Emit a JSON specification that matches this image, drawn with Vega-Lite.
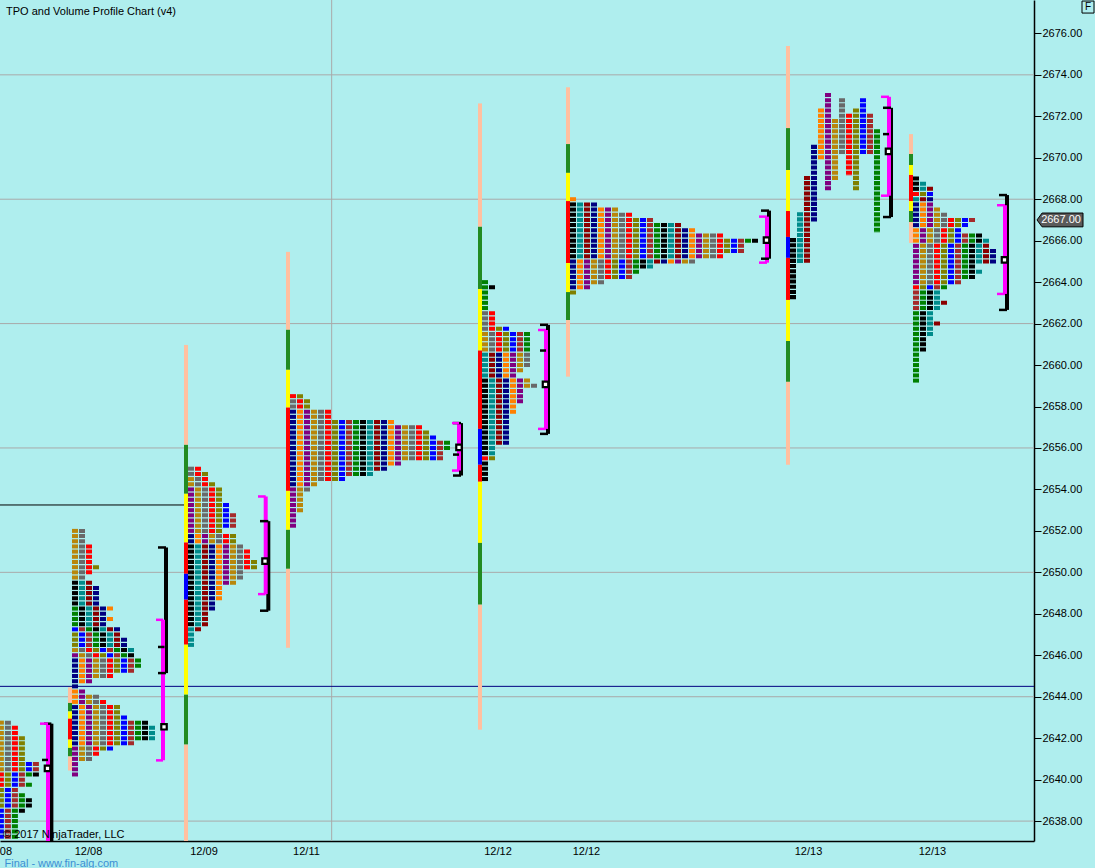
{
"$schema":"https://vega.github.io/schema/vega-lite/v6.json",
"width":1034,"height":841,
"autosize":{"type":"none"},
"padding":{"left":0,"top":0,"right":61,"bottom":27},
"background":"#afeeee",
"config":{"view":{"stroke":null},"font":"Liberation Sans"},
"datasets":{
"grid":[{"y":2674,"x":0,"xe":147.714},{"y":2668,"x":0,"xe":147.714},{"y":2662,"x":0,"xe":147.714},{"y":2656,"x":0,"xe":147.714},{"y":2650,"x":0,"xe":147.714},{"y":2644,"x":0,"xe":147.714},{"y":2638,"x":0,"xe":147.714}],
"vgrid":[{"x":47.38,"y":2677.61,"ye":2637.04}],
"lines":[{"ln":"a","y":2653.25,"x":0,"xe":26.43},{"ln":"b","y":2644.5,"x":0,"xe":147.714}],
"bars":[
{"x":9.714,"xe":10.286,"y":2644.45,"ye":2643.7,"seg":"pk"},
{"x":9.714,"xe":10.286,"y":2643.7,"ye":2643.29,"seg":"gr"},
{"x":9.714,"xe":10.286,"y":2643.29,"ye":2642.94,"seg":"ye"},
{"x":9.714,"xe":10.286,"y":2642.94,"ye":2641.93,"seg":"rd"},
{"x":9.714,"xe":10.286,"y":2641.93,"ye":2641.53,"seg":"ye"},
{"x":9.714,"xe":10.286,"y":2641.53,"ye":2641.12,"seg":"gr"},
{"x":9.714,"xe":10.286,"y":2641.12,"ye":2640.44,"seg":"pk"},
{"x":26.286,"xe":26.857,"y":2660.97,"ye":2656.15,"seg":"pk"},
{"x":26.286,"xe":26.857,"y":2656.15,"ye":2653.79,"seg":"gr"},
{"x":26.286,"xe":26.857,"y":2653.79,"ye":2651.44,"seg":"ye"},
{"x":26.286,"xe":26.857,"y":2651.44,"ye":2649.93,"seg":"rd"},
{"x":26.286,"xe":26.857,"y":2649.93,"ye":2648.68,"seg":"bl"},
{"x":26.286,"xe":26.857,"y":2648.68,"ye":2646.51,"seg":"rd"},
{"x":26.286,"xe":26.857,"y":2646.51,"ye":2644.1,"seg":"ye"},
{"x":26.286,"xe":26.857,"y":2644.1,"ye":2641.69,"seg":"gr"},
{"x":26.286,"xe":26.857,"y":2641.69,"ye":2637.04,"seg":"pk"},
{"x":40.857,"xe":41.429,"y":2665.46,"ye":2661.7,"seg":"pk"},
{"x":40.857,"xe":41.429,"y":2661.7,"ye":2659.77,"seg":"gr"},
{"x":40.857,"xe":41.429,"y":2659.77,"ye":2657.95,"seg":"ye"},
{"x":40.857,"xe":41.429,"y":2657.95,"ye":2653.93,"seg":"rd"},
{"x":40.857,"xe":41.429,"y":2653.93,"ye":2652.05,"seg":"ye"},
{"x":40.857,"xe":41.429,"y":2652.05,"ye":2650.17,"seg":"gr"},
{"x":40.857,"xe":41.429,"y":2650.17,"ye":2646.36,"seg":"pk"},
{"x":68.286,"xe":68.857,"y":2672.62,"ye":2666.67,"seg":"pk"},
{"x":68.286,"xe":68.857,"y":2666.67,"ye":2663.67,"seg":"gr"},
{"x":68.286,"xe":68.857,"y":2663.67,"ye":2660.7,"seg":"ye"},
{"x":68.286,"xe":68.857,"y":2660.7,"ye":2656.92,"seg":"rd"},
{"x":68.286,"xe":68.857,"y":2656.92,"ye":2655.19,"seg":"bl"},
{"x":68.286,"xe":68.857,"y":2655.19,"ye":2654.37,"seg":"rd"},
{"x":68.286,"xe":68.857,"y":2654.37,"ye":2651.42,"seg":"ye"},
{"x":68.286,"xe":68.857,"y":2651.42,"ye":2648.44,"seg":"gr"},
{"x":68.286,"xe":68.857,"y":2648.44,"ye":2642.41,"seg":"pk"},
{"x":80.857,"xe":81.429,"y":2673.4,"ye":2670.66,"seg":"pk"},
{"x":80.857,"xe":81.429,"y":2670.66,"ye":2669.27,"seg":"gr"},
{"x":80.857,"xe":81.429,"y":2669.27,"ye":2667.91,"seg":"ye"},
{"x":80.857,"xe":81.429,"y":2667.91,"ye":2664.92,"seg":"rd"},
{"x":80.857,"xe":81.429,"y":2664.92,"ye":2663.52,"seg":"ye"},
{"x":80.857,"xe":81.429,"y":2663.52,"ye":2662.17,"seg":"gr"},
{"x":80.857,"xe":81.429,"y":2662.17,"ye":2659.44,"seg":"pk"},
{"x":112.286,"xe":112.857,"y":2675.39,"ye":2671.43,"seg":"pk"},
{"x":112.286,"xe":112.857,"y":2671.43,"ye":2669.41,"seg":"gr"},
{"x":112.286,"xe":112.857,"y":2669.41,"ye":2667.43,"seg":"ye"},
{"x":112.286,"xe":112.857,"y":2667.43,"ye":2666.18,"seg":"rd"},
{"x":112.286,"xe":112.857,"y":2666.18,"ye":2665.17,"seg":"bl"},
{"x":112.286,"xe":112.857,"y":2665.17,"ye":2663.14,"seg":"rd"},
{"x":112.286,"xe":112.857,"y":2663.14,"ye":2661.16,"seg":"ye"},
{"x":112.286,"xe":112.857,"y":2661.16,"ye":2659.19,"seg":"gr"},
{"x":112.286,"xe":112.857,"y":2659.19,"ye":2655.19,"seg":"pk"},
{"x":129.857,"xe":130.429,"y":2671.14,"ye":2670.18,"seg":"pk"},
{"x":129.857,"xe":130.429,"y":2670.18,"ye":2669.65,"seg":"gr"},
{"x":129.857,"xe":130.429,"y":2669.65,"ye":2669.17,"seg":"ye"},
{"x":129.857,"xe":130.429,"y":2669.17,"ye":2667.91,"seg":"rd"},
{"x":129.857,"xe":130.429,"y":2667.91,"ye":2667.43,"seg":"ye"},
{"x":129.857,"xe":130.429,"y":2667.43,"ye":2666.9,"seg":"gr"},
{"x":129.857,"xe":130.429,"y":2666.9,"ye":2665.89,"seg":"pk"}
],
"rows":[
{"y":2642.75,"x":-0.3,"xe":1.7,"s":6},{"y":2642.5,"x":-0.3,"xe":2.7,"s":6},{"y":2642.25,"x":-0.3,"xe":2.7,"s":6},{"y":2642.0,"x":-0.3,"xe":3.7,"s":6},{"y":2641.75,"x":-0.3,"xe":3.7,"s":6},{"y":2641.5,"x":-0.3,"xe":3.7,"s":6},{"y":2641.25,"x":-0.3,"xe":3.7,"s":6},{"y":2641.0,"x":-0.3,"xe":3.7,"s":6},{"y":2640.75,"x":-0.3,"xe":5.7,"s":6},{"y":2640.5,"x":-0.3,"xe":5.7,"s":6},{"y":2640.25,"x":-0.3,"xe":5.7,"s":8},{"y":2640.0,"x":-0.3,"xe":3.7,"s":8},{"y":2639.75,"x":-0.3,"xe":4.7,"s":8},{"y":2639.5,"x":-0.3,"xe":2.7,"s":9},{"y":2639.25,"x":-0.3,"xe":3.7,"s":9},{"y":2639.0,"x":-0.3,"xe":4.7,"s":9},{"y":2638.75,"x":-0.3,"xe":4.7,"s":9},{"y":2638.5,"x":-0.3,"xe":3.7,"s":10},{"y":2638.25,"x":-0.3,"xe":2.7,"s":10},{"y":2638.0,"x":-0.3,"xe":2.7,"s":10},{"y":2637.75,"x":-0.3,"xe":2.7,"s":10},{"y":2637.5,"x":-0.3,"xe":2.7,"s":10},{"y":2637.25,"x":-0.3,"xe":2.7,"s":10},
{"y":2652.0,"x":10.286,"xe":12.286,"s":6},{"y":2651.75,"x":10.286,"xe":12.286,"s":6},{"y":2651.5,"x":10.286,"xe":12.286,"s":6},{"y":2651.25,"x":10.286,"xe":13.286,"s":6},{"y":2651.0,"x":10.286,"xe":13.286,"s":6},{"y":2650.75,"x":10.286,"xe":13.286,"s":6},{"y":2650.5,"x":10.286,"xe":13.286,"s":6},{"y":2650.25,"x":10.286,"xe":14.286,"s":6},{"y":2650.0,"x":10.286,"xe":13.286,"s":6},{"y":2649.75,"x":10.286,"xe":12.286,"s":6},{"y":2649.5,"x":10.286,"xe":13.286,"s":0},{"y":2649.25,"x":10.286,"xe":14.286,"s":0},{"y":2649.0,"x":10.286,"xe":14.286,"s":0},{"y":2648.75,"x":10.286,"xe":14.286,"s":0},{"y":2648.5,"x":10.286,"xe":14.286,"s":0},{"y":2648.25,"x":10.286,"xe":16.286,"s":12},{"y":2648.0,"x":10.286,"xe":15.286,"s":12},{"y":2647.75,"x":10.286,"xe":16.286,"s":12},{"y":2647.5,"x":10.286,"xe":15.286,"s":12},{"y":2647.25,"x":10.286,"xe":17.286,"s":10},{"y":2647.0,"x":10.286,"xe":17.286,"s":9},{"y":2646.75,"x":10.286,"xe":18.286,"s":9},{"y":2646.5,"x":10.286,"xe":18.286,"s":9},{"y":2646.25,"x":10.286,"xe":19.286,"s":6},{"y":2646.0,"x":10.286,"xe":19.286,"s":5},{"y":2645.75,"x":10.286,"xe":20.286,"s":3},{"y":2645.5,"x":10.286,"xe":20.286,"s":3},{"y":2645.25,"x":10.286,"xe":19.286,"s":3},{"y":2645.0,"x":10.286,"xe":16.286,"s":3},{"y":2644.75,"x":10.286,"xe":13.286,"s":3},{"y":2644.5,"x":10.286,"xe":11.286,"s":3},{"y":2644.25,"x":10.286,"xe":12.286,"s":4},{"y":2644.0,"x":10.286,"xe":14.286,"s":4},{"y":2643.75,"x":10.286,"xe":15.286,"s":4},{"y":2643.5,"x":10.286,"xe":17.286,"s":3},{"y":2643.25,"x":10.286,"xe":17.286,"s":3},{"y":2643.0,"x":10.286,"xe":18.286,"s":3},{"y":2642.75,"x":10.286,"xe":21.286,"s":3},{"y":2642.5,"x":10.286,"xe":22.286,"s":3},{"y":2642.25,"x":10.286,"xe":22.286,"s":3},{"y":2642.0,"x":10.286,"xe":22.286,"s":3},{"y":2641.75,"x":10.286,"xe":19.286,"s":3},{"y":2641.5,"x":10.286,"xe":16.286,"s":5},{"y":2641.25,"x":10.286,"xe":14.286,"s":5},{"y":2641.0,"x":10.286,"xe":13.286,"s":5},{"y":2640.75,"x":10.286,"xe":11.286,"s":5},{"y":2640.5,"x":10.286,"xe":11.286,"s":5},{"y":2640.25,"x":10.286,"xe":11.286,"s":5},
{"y":2655.0,"x":26.857,"xe":28.857,"s":7},{"y":2654.75,"x":26.857,"xe":29.857,"s":7},{"y":2654.5,"x":26.857,"xe":29.857,"s":6},{"y":2654.25,"x":26.857,"xe":30.857,"s":6},{"y":2654.0,"x":26.857,"xe":31.857,"s":5},{"y":2653.75,"x":26.857,"xe":31.857,"s":5},{"y":2653.5,"x":26.857,"xe":31.857,"s":5},{"y":2653.25,"x":26.857,"xe":32.857,"s":5},{"y":2653.0,"x":26.857,"xe":32.857,"s":5},{"y":2652.75,"x":26.857,"xe":33.857,"s":5},{"y":2652.5,"x":26.857,"xe":33.857,"s":5},{"y":2652.25,"x":26.857,"xe":33.857,"s":5},{"y":2652.0,"x":26.857,"xe":31.857,"s":5},{"y":2651.75,"x":26.857,"xe":33.857,"s":3},{"y":2651.5,"x":26.857,"xe":33.857,"s":3},{"y":2651.25,"x":26.857,"xe":34.857,"s":0},{"y":2651.0,"x":26.857,"xe":35.857,"s":0},{"y":2650.75,"x":26.857,"xe":35.857,"s":0},{"y":2650.5,"x":26.857,"xe":36.857,"s":0},{"y":2650.25,"x":26.857,"xe":36.857,"s":0},{"y":2650.0,"x":26.857,"xe":34.857,"s":0},{"y":2649.75,"x":26.857,"xe":34.857,"s":0},{"y":2649.5,"x":26.857,"xe":33.857,"s":0},{"y":2649.25,"x":26.857,"xe":31.857,"s":0},{"y":2649.0,"x":26.857,"xe":31.857,"s":0},{"y":2648.75,"x":26.857,"xe":31.857,"s":0},{"y":2648.5,"x":26.857,"xe":30.857,"s":0},{"y":2648.25,"x":26.857,"xe":30.857,"s":0},{"y":2648.0,"x":26.857,"xe":29.857,"s":0},{"y":2647.75,"x":26.857,"xe":29.857,"s":0},{"y":2647.5,"x":26.857,"xe":29.857,"s":0},{"y":2647.25,"x":26.857,"xe":28.857,"s":1},{"y":2647.0,"x":26.857,"xe":27.857,"s":1},{"y":2646.75,"x":26.857,"xe":27.857,"s":1},{"y":2646.5,"x":26.857,"xe":27.857,"s":1},
{"y":2658.5,"x":41.429,"xe":43.429,"s":8},{"y":2658.25,"x":41.429,"xe":44.429,"s":7},{"y":2658.0,"x":41.429,"xe":44.429,"s":7},{"y":2657.75,"x":41.429,"xe":47.429,"s":3},{"y":2657.5,"x":41.429,"xe":47.429,"s":3},{"y":2657.25,"x":41.429,"xe":56.429,"s":3},{"y":2657.0,"x":41.429,"xe":60.429,"s":3},{"y":2656.75,"x":41.429,"xe":61.429,"s":3},{"y":2656.5,"x":41.429,"xe":62.429,"s":3},{"y":2656.25,"x":41.429,"xe":64.429,"s":3},{"y":2656.0,"x":41.429,"xe":64.429,"s":3},{"y":2655.75,"x":41.429,"xe":63.429,"s":3},{"y":2655.5,"x":41.429,"xe":63.429,"s":3},{"y":2655.25,"x":41.429,"xe":57.429,"s":3},{"y":2655.0,"x":41.429,"xe":55.429,"s":3},{"y":2654.75,"x":41.429,"xe":53.429,"s":3},{"y":2654.5,"x":41.429,"xe":49.429,"s":3},{"y":2654.25,"x":41.429,"xe":45.429,"s":3},{"y":2654.0,"x":41.429,"xe":44.429,"s":5},{"y":2653.75,"x":41.429,"xe":43.429,"s":5},{"y":2653.5,"x":41.429,"xe":43.429,"s":5},{"y":2653.25,"x":41.429,"xe":43.429,"s":5},{"y":2653.0,"x":41.429,"xe":43.429,"s":5},{"y":2652.75,"x":41.429,"xe":42.429,"s":5},{"y":2652.5,"x":41.429,"xe":42.429,"s":5},{"y":2652.25,"x":41.429,"xe":42.429,"s":5},
{"y":2664.0,"x":68.857,"xe":69.857,"s":12},{"y":2663.75,"x":68.857,"xe":70.857,"s":12},{"y":2663.5,"x":68.857,"xe":69.857,"s":12},{"y":2663.25,"x":68.857,"xe":69.857,"s":12},{"y":2663.0,"x":68.857,"xe":69.857,"s":12},{"y":2662.75,"x":68.857,"xe":69.857,"s":12},{"y":2662.5,"x":68.857,"xe":70.857,"s":7},{"y":2662.25,"x":68.857,"xe":70.857,"s":7},{"y":2662.0,"x":68.857,"xe":70.857,"s":7},{"y":2661.75,"x":68.857,"xe":72.857,"s":7},{"y":2661.5,"x":68.857,"xe":75.857,"s":6},{"y":2661.25,"x":68.857,"xe":75.857,"s":6},{"y":2661.0,"x":68.857,"xe":75.857,"s":6},{"y":2660.75,"x":68.857,"xe":75.857,"s":6},{"y":2660.5,"x":68.857,"xe":75.857,"s":1},{"y":2660.25,"x":68.857,"xe":75.857,"s":1},{"y":2660.0,"x":68.857,"xe":75.857,"s":1},{"y":2659.75,"x":68.857,"xe":74.857,"s":1},{"y":2659.5,"x":68.857,"xe":73.857,"s":1},{"y":2659.25,"x":68.857,"xe":75.857,"s":0},{"y":2659.0,"x":68.857,"xe":76.857,"s":0},{"y":2658.75,"x":68.857,"xe":74.857,"s":0},{"y":2658.5,"x":68.857,"xe":74.857,"s":0},{"y":2658.25,"x":68.857,"xe":74.857,"s":0},{"y":2658.0,"x":68.857,"xe":73.857,"s":0},{"y":2657.75,"x":68.857,"xe":73.857,"s":0},{"y":2657.5,"x":68.857,"xe":72.857,"s":0},{"y":2657.25,"x":68.857,"xe":72.857,"s":0},{"y":2657.0,"x":68.857,"xe":72.857,"s":0},{"y":2656.75,"x":68.857,"xe":72.857,"s":0},{"y":2656.5,"x":68.857,"xe":72.857,"s":0},{"y":2656.25,"x":68.857,"xe":72.857,"s":0},{"y":2656.0,"x":68.857,"xe":70.857,"s":0},{"y":2655.75,"x":68.857,"xe":70.857,"s":0},{"y":2655.5,"x":68.857,"xe":70.857,"s":8},{"y":2655.25,"x":68.857,"xe":69.857,"s":0},{"y":2655.0,"x":68.857,"xe":69.857,"s":0},{"y":2654.75,"x":68.857,"xe":69.857,"s":0},{"y":2654.5,"x":68.857,"xe":69.857,"s":0},
{"y":2668.0,"x":81.429,"xe":82.429,"s":4},{"y":2667.75,"x":81.429,"xe":85.429,"s":0},{"y":2667.5,"x":81.429,"xe":88.429,"s":0},{"y":2667.25,"x":81.429,"xe":90.429,"s":0},{"y":2667.0,"x":81.429,"xe":93.429,"s":0},{"y":2666.75,"x":81.429,"xe":97.429,"s":0},{"y":2666.5,"x":81.429,"xe":99.429,"s":0},{"y":2666.25,"x":81.429,"xe":103.429,"s":0},{"y":2666.0,"x":81.429,"xe":108.429,"s":0},{"y":2665.75,"x":81.429,"xe":106.429,"s":0},{"y":2665.5,"x":81.429,"xe":106.429,"s":0},{"y":2665.25,"x":81.429,"xe":103.429,"s":0},{"y":2665.0,"x":81.429,"xe":99.429,"s":3},{"y":2664.75,"x":81.429,"xe":93.429,"s":3},{"y":2664.5,"x":81.429,"xe":91.429,"s":3},{"y":2664.25,"x":81.429,"xe":90.429,"s":3},{"y":2664.0,"x":81.429,"xe":86.429,"s":3},{"y":2663.75,"x":81.429,"xe":84.429,"s":3},{"y":2663.5,"x":81.429,"xe":82.429,"s":9},
{"y":2669.0,"x":130.429,"xe":131.429,"s":0},{"y":2668.75,"x":130.429,"xe":132.429,"s":0},{"y":2668.5,"x":130.429,"xe":133.429,"s":0},{"y":2668.25,"x":130.429,"xe":133.429,"s":8},{"y":2668.0,"x":130.429,"xe":133.429,"s":1},{"y":2667.75,"x":130.429,"xe":133.429,"s":3},{"y":2667.5,"x":130.429,"xe":134.429,"s":3},{"y":2667.25,"x":130.429,"xe":135.429,"s":3},{"y":2667.0,"x":130.429,"xe":139.429,"s":3},{"y":2666.75,"x":130.429,"xe":138.429,"s":3},{"y":2666.5,"x":130.429,"xe":137.429,"s":4},{"y":2666.25,"x":130.429,"xe":140.429,"s":4},{"y":2666.0,"x":130.429,"xe":141.429,"s":4},{"y":2665.75,"x":130.429,"xe":141.429,"s":5},{"y":2665.5,"x":130.429,"xe":142.429,"s":5},{"y":2665.25,"x":130.429,"xe":142.429,"s":5},{"y":2665.0,"x":130.429,"xe":142.429,"s":5},{"y":2664.75,"x":130.429,"xe":139.429,"s":5},{"y":2664.5,"x":130.429,"xe":140.429,"s":5},{"y":2664.25,"x":130.429,"xe":139.429,"s":5},{"y":2664.0,"x":130.429,"xe":137.429,"s":5},{"y":2663.75,"x":130.429,"xe":135.429,"s":8},{"y":2663.5,"x":130.429,"xe":134.429,"s":11},{"y":2663.25,"x":130.429,"xe":134.429,"s":11},{"y":2663.0,"x":130.429,"xe":135.429,"s":11},{"y":2662.75,"x":130.429,"xe":134.429,"s":11},{"y":2662.5,"x":130.429,"xe":133.429,"s":12},{"y":2662.25,"x":130.429,"xe":133.429,"s":12},{"y":2662.0,"x":130.429,"xe":134.429,"s":12},{"y":2661.75,"x":130.429,"xe":133.429,"s":12},{"y":2661.5,"x":130.429,"xe":133.429,"s":12},{"y":2661.25,"x":130.429,"xe":132.429,"s":12},{"y":2661.0,"x":130.429,"xe":132.429,"s":12},{"y":2660.75,"x":130.429,"xe":132.429,"s":12},{"y":2660.5,"x":130.429,"xe":131.429,"s":12},{"y":2660.25,"x":130.429,"xe":131.429,"s":12},{"y":2660.0,"x":130.429,"xe":131.429,"s":12},{"y":2659.75,"x":130.429,"xe":131.429,"s":12},{"y":2659.5,"x":130.429,"xe":131.429,"s":12},{"y":2659.25,"x":130.429,"xe":131.429,"s":12}
],
"p7":[
{"x":113.286,"per":0,"y":2666.125,"ye":2663.125},
{"x":114.286,"per":1,"y":2667.375,"ye":2664.875},
{"x":115.286,"per":2,"y":2669.125,"ye":2664.875},
{"x":116.286,"per":3,"y":2670.625,"ye":2666.875},
{"x":117.286,"per":4,"y":2672.375,"ye":2669.875},
{"x":118.286,"per":5,"y":2673.125,"ye":2668.375},
{"x":119.286,"per":6,"y":2671.875,"ye":2668.875},
{"x":120.286,"per":7,"y":2672.875,"ye":2670.125},
{"x":121.286,"per":8,"y":2672.125,"ye":2669.125},
{"x":122.286,"per":9,"y":2672.375,"ye":2668.375},
{"x":123.286,"per":10,"y":2672.875,"ye":2670.125},
{"x":124.286,"per":11,"y":2672.125,"ye":2670.125},
{"x":125.286,"per":12,"y":2671.375,"ye":2666.375}
],
"brkv":[
{"kind":"rng","x":7.34,"y":2642.7,"ye":2637.04},
{"kind":"rng","x":23.714,"y":2651.2,"ye":2645.14},
{"kind":"rng","x":38.33,"y":2652.47,"ye":2648.15},
{"kind":"rng","x":65.857,"y":2657.2,"ye":2654.67},
{"kind":"rng","x":78.286,"y":2661.94,"ye":2656.68},
{"kind":"rng","x":109.857,"y":2667.45,"ye":2665.13},
{"kind":"rng","x":127.286,"y":2672.41,"ye":2667.14},
{"kind":"rng","x":143.857,"y":2668.2,"ye":2662.66},
{"kind":"va","x":6.857,"y":2642.7,"ye":2637.04},
{"kind":"va","x":23.286,"y":2647.71,"ye":2640.93},
{"kind":"va","x":37.957,"y":2653.66,"ye":2648.95},
{"kind":"va","x":65.571,"y":2657.2,"ye":2654.91},
{"kind":"va","x":78.0,"y":2661.69,"ye":2656.92},
{"kind":"va","x":109.571,"y":2667.16,"ye":2664.94},
{"kind":"va","x":127.0,"y":2672.94,"ye":2668.17},
{"kind":"va","x":143.571,"y":2667.71,"ye":2663.43}
],
"brkt":[
{"kind":"rng","x":6.286,"xe":7.34,"y":2642.7},
{"kind":"rng","x":22.571,"xe":23.714,"y":2651.2},{"kind":"rng","x":22.571,"xe":23.714,"y":2645.14},
{"kind":"rng","x":37.14,"xe":38.33,"y":2652.47},{"kind":"rng","x":37.14,"xe":38.33,"y":2648.15},
{"kind":"rng","x":64.714,"xe":65.857,"y":2657.2},{"kind":"rng","x":64.714,"xe":65.857,"y":2654.67},
{"kind":"rng","x":77.143,"xe":78.286,"y":2661.94},{"kind":"rng","x":77.143,"xe":78.286,"y":2656.68},
{"kind":"rng","x":108.714,"xe":109.857,"y":2667.45},{"kind":"rng","x":108.714,"xe":109.857,"y":2665.13},
{"kind":"rng","x":126.143,"xe":127.286,"y":2672.41},{"kind":"rng","x":126.143,"xe":127.286,"y":2667.14},
{"kind":"rng","x":142.714,"xe":143.857,"y":2668.2},{"kind":"rng","x":142.714,"xe":143.857,"y":2662.66},
{"kind":"va","x":5.714,"xe":6.857,"y":2642.7},
{"kind":"va","x":22.286,"xe":23.286,"y":2647.71},{"kind":"va","x":22.286,"xe":23.286,"y":2640.93},
{"kind":"va","x":36.857,"xe":37.957,"y":2653.66},{"kind":"va","x":36.857,"xe":37.957,"y":2648.95},
{"kind":"va","x":64.571,"xe":65.571,"y":2657.2},{"kind":"va","x":64.571,"xe":65.571,"y":2654.91},
{"kind":"va","x":76.857,"xe":78.0,"y":2661.69},{"kind":"va","x":76.857,"xe":78.0,"y":2656.92},
{"kind":"va","x":108.429,"xe":109.571,"y":2667.16},{"kind":"va","x":108.429,"xe":109.571,"y":2664.94},
{"kind":"va","x":125.857,"xe":127.0,"y":2672.94},{"kind":"va","x":125.857,"xe":127.0,"y":2668.17},
{"kind":"va","x":142.429,"xe":143.571,"y":2667.71},{"kind":"va","x":142.429,"xe":143.571,"y":2663.43}
],
"mid":[{"y":2640.95,"x":6.0,"xe":6.857},{"y":2646.4,"x":22.571,"xe":23.5},{"y":2655.68,"x":64.714,"xe":65.571},{"y":2660.7,"x":77.143,"xe":78.0},{"y":2671.14,"x":126.143,"xe":127.0}],
"poc":[{"x":6.786,"y":2640.54},{"x":23.43,"y":2642.55},{"x":37.857,"y":2650.54},{"x":65.571,"y":2656.03},{"x":77.93,"y":2659.07},{"x":109.5,"y":2666.03},{"x":126.93,"y":2670.31},{"x":143.5,"y":2665.07}],
"note":[{"t":"© 2017 NinjaTrader, LLC","x":0.43,"y":2637.19},{"t":"TPO and Volume Profile Chart (v4)","x":0.857,"y":2676.886},{"t":"12/08","x":-2.21,"y":2636.36}],
"pmark":[{"t":"2667.00","x":151.43,"y":2667}],
"fbox":[{"t":"F","x":155.43,"y":2677.27}]
},
"encoding":{
 "x":{"field":"x","type":"quantitative","scale":{"domain":[0,147.7142857],"nice":false,"zero":false},
  "axis":{"orient":"bottom","values":[12.57,29.07,43.71,71.07,83.71,115.43,133.14],"labelExpr":"datum.value < 20 ? '12/08' : datum.value < 35 ? '12/09' : datum.value < 60 ? '12/11' : datum.value < 100 ? '12/12' : '12/13'","ticks":false,"grid":false,"domainColor":"#000000","domainWidth":1.5,"labelFontSize":11,"labelFont":"Liberation Sans","labelColor":"#000000","labelPadding":4,"labelFlush":false,"labelOverlap":false,"labelBound":false,"title":"Final - www.fin-alg.com","titleAnchor":"start","titleAlign":"left","titleX":4,"titleY":25,"titleBaseline":"alphabetic","titleColor":"#3b8fd4","titleFontSize":11,"titleFontWeight":"normal","titleFont":"Liberation Sans"}},
 "y":{"field":"y","type":"quantitative","scale":{"domain":[2637.04,2677.61],"nice":false,"zero":false},
  "axis":{"orient":"right","values":[2638,2640,2642,2644,2646,2648,2650,2652,2654,2656,2658,2660,2662,2664,2666,2668,2670,2672,2674,2676],"format":".2f","title":null,"grid":false,"domainColor":"#000000","domainWidth":1.5,"tickColor":"#000000","tickSize":7,"labelPadding":1,"labelFontSize":11,"labelFont":"Liberation Sans","labelColor":"#000000","labelOverlap":false}}
},
"resolve":{"scale":{"color":"independent"}},
"layer":[
{"data":{"name":"grid"},"mark":{"type":"rule","color":"#a9a9a9","strokeWidth":1},"encoding":{"x2":{"field":"xe"}}},
{"data":{"name":"vgrid"},"mark":{"type":"rule","color":"#a9a9a9","strokeWidth":1},"encoding":{"y2":{"field":"ye"}}},
{"data":{"name":"lines"},"mark":{"type":"rule","strokeWidth":1},
 "encoding":{"x2":{"field":"xe"},"color":{"field":"ln","type":"nominal","scale":{"domain":["a","b"],"range":["#000000","#000080"]},"legend":null}}},
{"data":{"name":"bars"},"mark":{"type":"rect"},
 "encoding":{"x2":{"field":"xe"},"y2":{"field":"ye"},
  "color":{"field":"seg","type":"nominal","scale":{"domain":["pk","gr","ye","rd","bl"],"range":["#ffc0a0","#228b22","#ffff00","#ff0000","#0000ff"]},"legend":null}}},
{"data":{"name":"rows"},"mark":{"type":"rule","strokeWidth":4,"strokeDash":[6,85]},"encoding":{"x2":{"field":"xe"},"color":{"field":"s","type":"ordinal","scale":{"domain":[0,1,2,3,4,5,6,7,8,9,10,11,12],"range":["#000000","#008b8b","#8b0000","#000080","#ff8000","#800080","#b8860b","#696969","#ff0000","#808000","#0000ff","#a52a2a","#008000"]},"legend":null}}},
{"data":{"name":"rows"},"mark":{"type":"rule","strokeWidth":4,"strokeDash":[0,7,6,78]},"encoding":{"x2":{"field":"xe"},"color":{"field":"s","type":"ordinal","scale":{"domain":[0,1,2,3,4,5,6,7,8,9,10,11,12],"range":["#008b8b","#8b0000","#000080","#ff8000","#800080","#b8860b","#696969","#ff0000","#808000","#0000ff","#a52a2a","#008000","#000000"]},"legend":null}}},
{"data":{"name":"rows"},"mark":{"type":"rule","strokeWidth":4,"strokeDash":[0,14,6,71]},"encoding":{"x2":{"field":"xe"},"color":{"field":"s","type":"ordinal","scale":{"domain":[0,1,2,3,4,5,6,7,8,9,10,11,12],"range":["#8b0000","#000080","#ff8000","#800080","#b8860b","#696969","#ff0000","#808000","#0000ff","#a52a2a","#008000","#000000","#008b8b"]},"legend":null}}},
{"data":{"name":"rows"},"mark":{"type":"rule","strokeWidth":4,"strokeDash":[0,21,6,64]},"encoding":{"x2":{"field":"xe"},"color":{"field":"s","type":"ordinal","scale":{"domain":[0,1,2,3,4,5,6,7,8,9,10,11,12],"range":["#000080","#ff8000","#800080","#b8860b","#696969","#ff0000","#808000","#0000ff","#a52a2a","#008000","#000000","#008b8b","#8b0000"]},"legend":null}}},
{"data":{"name":"rows"},"mark":{"type":"rule","strokeWidth":4,"strokeDash":[0,28,6,57]},"encoding":{"x2":{"field":"xe"},"color":{"field":"s","type":"ordinal","scale":{"domain":[0,1,2,3,4,5,6,7,8,9,10,11,12],"range":["#ff8000","#800080","#b8860b","#696969","#ff0000","#808000","#0000ff","#a52a2a","#008000","#000000","#008b8b","#8b0000","#000080"]},"legend":null}}},
{"data":{"name":"rows"},"mark":{"type":"rule","strokeWidth":4,"strokeDash":[0,35,6,50]},"encoding":{"x2":{"field":"xe"},"color":{"field":"s","type":"ordinal","scale":{"domain":[0,1,2,3,4,5,6,7,8,9,10,11,12],"range":["#800080","#b8860b","#696969","#ff0000","#808000","#0000ff","#a52a2a","#008000","#000000","#008b8b","#8b0000","#000080","#ff8000"]},"legend":null}}},
{"data":{"name":"rows"},"mark":{"type":"rule","strokeWidth":4,"strokeDash":[0,42,6,43]},"encoding":{"x2":{"field":"xe"},"color":{"field":"s","type":"ordinal","scale":{"domain":[0,1,2,3,4,5,6,7,8,9,10,11,12],"range":["#b8860b","#696969","#ff0000","#808000","#0000ff","#a52a2a","#008000","#000000","#008b8b","#8b0000","#000080","#ff8000","#800080"]},"legend":null}}},
{"data":{"name":"rows"},"mark":{"type":"rule","strokeWidth":4,"strokeDash":[0,49,6,36]},"encoding":{"x2":{"field":"xe"},"color":{"field":"s","type":"ordinal","scale":{"domain":[0,1,2,3,4,5,6,7,8,9,10,11,12],"range":["#696969","#ff0000","#808000","#0000ff","#a52a2a","#008000","#000000","#008b8b","#8b0000","#000080","#ff8000","#800080","#b8860b"]},"legend":null}}},
{"data":{"name":"rows"},"mark":{"type":"rule","strokeWidth":4,"strokeDash":[0,56,6,29]},"encoding":{"x2":{"field":"xe"},"color":{"field":"s","type":"ordinal","scale":{"domain":[0,1,2,3,4,5,6,7,8,9,10,11,12],"range":["#ff0000","#808000","#0000ff","#a52a2a","#008000","#000000","#008b8b","#8b0000","#000080","#ff8000","#800080","#b8860b","#696969"]},"legend":null}}},
{"data":{"name":"rows"},"mark":{"type":"rule","strokeWidth":4,"strokeDash":[0,63,6,22]},"encoding":{"x2":{"field":"xe"},"color":{"field":"s","type":"ordinal","scale":{"domain":[0,1,2,3,4,5,6,7,8,9,10,11,12],"range":["#808000","#0000ff","#a52a2a","#008000","#000000","#008b8b","#8b0000","#000080","#ff8000","#800080","#b8860b","#696969","#ff0000"]},"legend":null}}},
{"data":{"name":"rows"},"mark":{"type":"rule","strokeWidth":4,"strokeDash":[0,70,6,15]},"encoding":{"x2":{"field":"xe"},"color":{"field":"s","type":"ordinal","scale":{"domain":[0,1,2,3,4,5,6,7,8,9,10,11,12],"range":["#0000ff","#a52a2a","#008000","#000000","#008b8b","#8b0000","#000080","#ff8000","#800080","#b8860b","#696969","#ff0000","#808000"]},"legend":null}}},
{"data":{"name":"rows"},"mark":{"type":"rule","strokeWidth":4,"strokeDash":[0,77,6,8]},"encoding":{"x2":{"field":"xe"},"color":{"field":"s","type":"ordinal","scale":{"domain":[0,1,2,3,4,5,6,7,8,9,10,11,12],"range":["#a52a2a","#008000","#000000","#008b8b","#8b0000","#000080","#ff8000","#800080","#b8860b","#696969","#ff0000","#808000","#0000ff"]},"legend":null}}},
{"data":{"name":"rows"},"mark":{"type":"rule","strokeWidth":4,"strokeDash":[0,84,6,1]},"encoding":{"x2":{"field":"xe"},"color":{"field":"s","type":"ordinal","scale":{"domain":[0,1,2,3,4,5,6,7,8,9,10,11,12],"range":["#008000","#000000","#008b8b","#8b0000","#000080","#ff8000","#800080","#b8860b","#696969","#ff0000","#808000","#0000ff","#a52a2a"]},"legend":null}}},
{"data":{"name":"p7"},"mark":{"type":"rule","strokeWidth":6,"strokeDash":[4.1,1.08]},
 "encoding":{"y2":{"field":"ye"},
  "color":{"field":"per","type":"ordinal","scale":{"domain":[0,1,2,3,4,5,6,7,8,9,10,11,12],"range":["#000000","#008b8b","#8b0000","#000080","#ff8000","#800080","#b8860b","#696969","#ff0000","#808000","#0000ff","#a52a2a","#008000"]},"legend":null}}},
{"data":{"name":"brkv"},"mark":{"type":"rule","strokeWidth":4},
 "encoding":{"y2":{"field":"ye"},"color":{"field":"kind","type":"nominal","scale":{"domain":["rng","va"],"range":["#000000","#ff00ff"]},"legend":null}}},
{"data":{"name":"brkt"},"mark":{"type":"rule","strokeWidth":2.5},
 "encoding":{"x2":{"field":"xe"},"color":{"field":"kind","type":"nominal","scale":{"domain":["rng","va"],"range":["#000000","#ff00ff"]},"legend":null}}},
{"data":{"name":"mid"},"mark":{"type":"rule","strokeWidth":2.5,"color":"#000000"},"encoding":{"x2":{"field":"xe"}}},
{"data":{"name":"poc"},"mark":{"type":"point","shape":"square","size":30,"filled":true,"fill":"#ffffff","stroke":"#000000","strokeWidth":2.2,"opacity":1}},
{"data":{"name":"note"},"mark":{"type":"text","align":"left","baseline":"alphabetic","font":"Liberation Sans","fontSize":11,"color":"#000000"},"encoding":{"text":{"field":"t"}}},
{"data":{"name":"pmark"},"mark":{"type":"point","shape":"M-1,0L-0.78,-0.3L1,-0.3L1,0.3L-0.78,0.3Z","size":2116,"filled":true,"fill":"#5a5a5a","stroke":"#000000","strokeWidth":1,"opacity":1}},
{"data":{"name":"pmark"},"mark":{"type":"text","align":"center","baseline":"middle","dx":1,"font":"Liberation Sans","fontSize":11,"color":"#ffffff"},"encoding":{"text":{"field":"t"}}},
{"data":{"name":"fbox"},"mark":{"type":"point","shape":"square","size":144,"filled":false,"stroke":"#000000","strokeWidth":1,"opacity":1}},
{"data":{"name":"fbox"},"mark":{"type":"text","align":"center","baseline":"middle","font":"Liberation Sans","fontSize":10,"color":"#000000"},"encoding":{"text":{"field":"t"}}}
]
}
